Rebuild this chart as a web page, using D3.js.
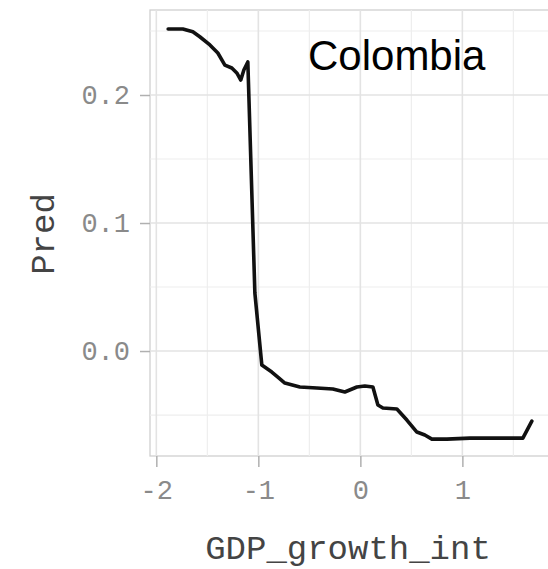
<!DOCTYPE html>
<html>
<head>
<meta charset="utf-8">
<script src="https://cdn.jsdelivr.net/npm/d3@7"></script>
<style>
  html, body { margin: 0; padding: 0; background: #ffffff; }
  svg { display: block; }
</style>
</head>
<body>
<figure style="margin:0"></figure>
<script>
// partial dependence of Pred on GDP_growth_int
const gdpGrowth = [-1.884, -1.740, -1.642, -1.574, -1.475, -1.397, -1.328, -1.260, -1.211, -1.172,
  -1.142, -1.103, -1.034, -0.966, -0.868, -0.809, -0.740, -0.593, -0.426, -0.270, -0.152, -0.034,
  0.044, 0.123, 0.172, 0.221, 0.358, 0.456, 0.554, 0.632, 0.701, 0.848, 1.074, 1.338, 1.593, 1.681];
const pred = [0.2516, 0.2516, 0.2494, 0.2455, 0.2391, 0.2328, 0.2234, 0.2211, 0.2172, 0.2117,
  0.2195, 0.2258, 0.0453, -0.0109, -0.0164, -0.0203, -0.0250, -0.0281, -0.0289, -0.0297, -0.0320, -0.0281,
  -0.0273, -0.0281, -0.0422, -0.0445, -0.0453, -0.0539, -0.0633, -0.0656, -0.0688, -0.0688, -0.0680, -0.0680, -0.0680, -0.0547];
const xTicks = [-2, -1, 0, 1];
const xMinor = [-1.5, -0.5, 0.5, 1.5];
const yTicks = [0.0, 0.1, 0.2];
const yMinor = [-0.05, 0.05, 0.15, 0.25];
const country = "Colombia";

const draw = () => {
  const width = 548;
  const height = 569;
  const margin = { top: 10, right: -2, bottom: 113, left: 150 };

  const svg = d3.select("figure").append("svg")
    .attr("width", width)
    .attr("height", height);

  const x = d3.scaleLinear()
    .domain([-2.062, 1.859])
    .range([margin.left, width - margin.right]);

  const y = d3.scaleLinear()
    .domain([-0.082, 0.2664])
    .range([height - margin.bottom, margin.top]);

  const mono = "'Liberation Mono', 'DejaVu Sans Mono', monospace";

  // panel
  svg.append("rect")
    .attr("x", x.range()[0])
    .attr("y", y.range()[1])
    .attr("width", x.range()[1] - x.range()[0])
    .attr("height", y.range()[0] - y.range()[1])
    .attr("fill", "#ffffff")
    .attr("stroke", "#d0d0d0")
    .attr("stroke-width", 1.3);

  const grid = svg.append("g").attr("class", "grid");

  grid.selectAll("line.xminor").data(xMinor).enter().append("line")
    .attr("x1", (d) => x(d)).attr("x2", (d) => x(d))
    .attr("y1", y.range()[0]).attr("y2", y.range()[1])
    .attr("stroke", "#eeeeee").attr("stroke-width", 1.2);
  grid.selectAll("line.yminor").data(yMinor).enter().append("line")
    .attr("y1", (d) => y(d)).attr("y2", (d) => y(d))
    .attr("x1", x.range()[0]).attr("x2", x.range()[1])
    .attr("stroke", "#eeeeee").attr("stroke-width", 1.2);
  grid.selectAll("line.xmajor").data(xTicks).enter().append("line")
    .attr("x1", (d) => x(d)).attr("x2", (d) => x(d))
    .attr("y1", y.range()[0]).attr("y2", y.range()[1])
    .attr("stroke", "#e3e3e3").attr("stroke-width", 1.6);
  grid.selectAll("line.ymajor").data(yTicks).enter().append("line")
    .attr("y1", (d) => y(d)).attr("y2", (d) => y(d))
    .attr("x1", x.range()[0]).attr("x2", x.range()[1])
    .attr("stroke", "#e3e3e3").attr("stroke-width", 1.6);

  // axes
  const xAxis = d3.axisBottom(x)
    .tickValues(xTicks)
    .tickSize(11)
    .tickPadding(13)
    .tickFormat((d) => d3.format("d")(d).replace("−", "-"));

  const gx = svg.append("g")
    .attr("transform", `translate(0, ${y.range()[0]})`)
    .call(xAxis);
  gx.select(".domain").remove();
  gx.selectAll(".tick line").attr("stroke", "#b0b0b0").attr("stroke-width", 1.5);
  gx.selectAll(".tick text")
    .attr("fill", "#8a8a8a")
    .style("font-family", mono)
    .style("font-size", "27px");

  const yAxis = d3.axisLeft(y)
    .tickValues(yTicks)
    .tickSize(10)
    .tickPadding(10)
    .tickFormat(d3.format(".1f"));

  const gy = svg.append("g")
    .attr("transform", `translate(${x.range()[0]}, 0)`)
    .call(yAxis);
  gy.select(".domain").remove();
  gy.selectAll(".tick line").attr("stroke", "#b0b0b0").attr("stroke-width", 1.5);
  gy.selectAll(".tick text")
    .attr("fill", "#8a8a8a")
    .style("font-family", mono)
    .style("font-size", "27px");

  // axis titles
  svg.append("text")
    .attr("x", 348)
    .attr("y", 559)
    .style("text-anchor", "middle")
    .style("font-family", mono)
    .style("font-size", "34px")
    .attr("fill", "#444444")
    .text("GDP_growth_int");

  svg.append("text")
    .attr("transform", "translate(54, 234) rotate(-90)")
    .style("text-anchor", "middle")
    .style("font-family", mono)
    .style("font-size", "34px")
    .attr("fill", "#444444")
    .text("Pred");

  // line
  const points = gdpGrowth.map((g, i) => ({ g, p: pred[i] }));

  const line = d3.line()
    .x((d) => x(d.g))
    .y((d) => y(d.p))
    .curve(d3.curveLinear);

  svg.append("path")
    .datum(points)
    .attr("d", line)
    .attr("fill", "none")
    .attr("stroke", "#111111")
    .attr("stroke-width", 3.6)
    .attr("stroke-linejoin", "round")
    .attr("stroke-linecap", "round");

  // country label
  svg.append("text")
    .attr("x", 308)
    .attr("y", 70)
    .style("font-family", "'Liberation Sans', Arial, sans-serif")
    .style("font-size", "42px")
    .attr("fill", "#000000")
    .text(country);
};

window.onload = () => {
  draw();
};
</script>
</body>
</html>
